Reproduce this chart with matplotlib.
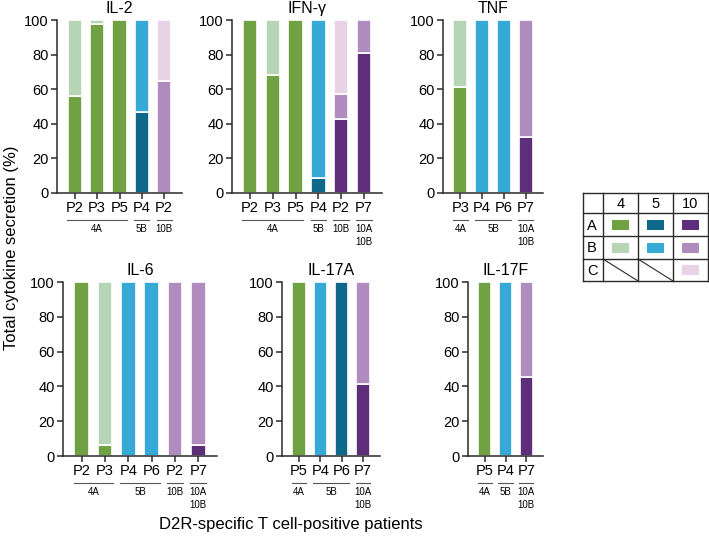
import matplotlib.pyplot as plt
from matplotlib.patches import Rectangle

plt.rcParams['font.family'] = ['Liberation Sans', 'DejaVu Sans']

W, H = 709, 542
fig = plt.figure(figsize=(W / 100, H / 100), dpi=100)

# segment colours: allele + row of the key table
colors = {
    '4A': '#70a244', '4B': '#b6d5b7',
    '5A': '#0e6889', '5B': '#36a9d6',
    '10A': '#5f2e7b', '10B': '#b08bbe', '10C': '#e8d3e6',
}

# ---- data (percent of total secretion) ----
il2_patients = ['P2', 'P3', 'P5', 'P4', 'P2']
il2_allele = ['4', '4', '4', '5', '10']
il2_A = [56, 97.5, 100, 47, 0]
il2_B = [44, 2.5, 0, 53, 64.5]
il2_C = [0, 0, 0, 0, 35.5]
il2_groups = [('4A', 0, 2), ('5B', 3, 3), ('10B', 4, 4)]

ifn_patients = ['P2', 'P3', 'P5', 'P4', 'P2', 'P7']
ifn_allele = ['4', '4', '4', '5', '10', '10']
ifn_A = [100, 68, 100, 8.5, 43, 81]
ifn_B = [0, 32, 0, 91.5, 14, 19]
ifn_C = [0, 0, 0, 0, 43, 0]
ifn_groups = [('4A', 0, 2), ('5B', 3, 3), ('10B', 4, 4), ('10A\n10B', 5, 5)]

tnf_patients = ['P3', 'P4', 'P6', 'P7']
tnf_allele = ['4', '5', '5', '10']
tnf_A = [61.5, 0, 0, 32.5]
tnf_B = [38.5, 100, 100, 67.5]
tnf_C = [0, 0, 0, 0]
tnf_groups = [('4A', 0, 0), ('5B', 1, 2), ('10A\n10B', 3, 3)]

il6_patients = ['P2', 'P3', 'P4', 'P6', 'P2', 'P7']
il6_allele = ['4', '4', '5', '5', '10', '10']
il6_A = [100, 6.5, 0, 0, 0, 6.5]
il6_B = [0, 93.5, 100, 100, 100, 93.5]
il6_C = [0, 0, 0, 0, 0, 0]
il6_groups = [('4A', 0, 1), ('5B', 2, 3), ('10B', 4, 4), ('10A\n10B', 5, 5)]

il17a_patients = ['P5', 'P4', 'P6', 'P7']
il17a_allele = ['4', '5', '5', '10']
il17a_A = [100, 0, 100, 41.5]
il17a_B = [0, 100, 0, 58.5]
il17a_C = [0, 0, 0, 0]
il17a_groups = [('4A', 0, 0), ('5B', 1, 2), ('10A\n10B', 3, 3)]

il17f_patients = ['P5', 'P4', 'P7']
il17f_allele = ['4', '5', '10']
il17f_A = [100, 0, 45.5]
il17f_B = [0, 100, 54.5]
il17f_C = [0, 0, 0]
il17f_groups = [('4A', 0, 0), ('5B', 1, 1), ('10A\n10B', 2, 2)]

panels = [
    ('IL-2', il2_patients, il2_allele, il2_A, il2_B, il2_C, il2_groups),
    ('IFN-γ', ifn_patients, ifn_allele, ifn_A, ifn_B, ifn_C, ifn_groups),
    ('TNF', tnf_patients, tnf_allele, tnf_A, tnf_B, tnf_C, tnf_groups),
    ('IL-6', il6_patients, il6_allele, il6_A, il6_B, il6_C, il6_groups),
    ('IL-17A', il17a_patients, il17a_allele, il17a_A, il17a_B, il17a_C, il17a_groups),
    ('IL-17F', il17f_patients, il17f_allele, il17f_A, il17f_B, il17f_C, il17f_groups),
]

# axes placement in pixels: left, right, y of value 0, y of value 100
boxes = [(57, 182, 193, 20), (232, 382, 193, 20), (443, 543, 193, 20),
         (63, 217, 456, 282), (282, 380, 456, 282), (468, 543, 456, 282)]

ink = '#2a2a2a'

for (title, pats, allele, A, B, C, groups), (l, r, y0, y1) in zip(panels, boxes):
    ax = fig.add_axes([l / W, 1 - y0 / H, (r - l) / W, (y0 - y1) / H])
    n = len(pats)
    x = list(range(n))
    bot = [0] * n
    for row, vals in zip('ABC', [A, B, C]):
        cols = [colors.get(a + row, 'white') for a in allele]
        lws = [1.2 if v > 0 else 0 for v in vals]
        ax.bar(x, vals, bottom=bot, width=0.64, color=cols,
               edgecolor='white', linewidth=lws)
        bot = [b + v for b, v in zip(bot, vals)]
    ax.set_xlim(-0.8, n - 0.2)
    ax.set_ylim(0, 100)
    ax.set_yticks(range(0, 101, 20))
    ax.set_xticks(x)
    ax.set_xticklabels(pats)
    for s in ['top', 'right']:
        ax.spines[s].set_visible(False)
    for s in ['left', 'bottom']:
        ax.spines[s].set_color(ink)
        ax.spines[s].set_linewidth(1.1)
    ax.tick_params(length=4, width=1.1, color=ink, labelsize=10.5, pad=2)
    ax.set_title(title, fontsize=11.5, pad=5)

    hpx = y0 - y1
    tr = ax.get_xaxis_transform()
    for lab, i0, i1 in groups:
        ax.plot([i0 - 0.34, i1 + 0.34], [-27 / hpx] * 2, color='#555555',
                lw=0.8, transform=tr, clip_on=False)
        ax.text((i0 + i1) / 2, -31 / hpx, lab, transform=tr, ha='center',
                va='top', fontsize=7, linespacing=1.35)

fig.text(12 / W, 1 - 248 / H, 'Total cytokine secretion (%)', rotation=90,
         ha='center', va='center', fontsize=12)
fig.text(291 / W, 1 - 525 / H, 'D2R-specific T cell-positive patients',
         ha='center', va='center', fontsize=12)

# key table
tab_cols = ['4', '5', '10']
tab_rows = ['A', 'B', 'C']
xs = [583, 603, 638, 673, 708]
ys = [193, 213, 236, 259, 281]
axt = fig.add_axes([xs[0] / W, 1 - ys[-1] / H, (xs[-1] - xs[0]) / W, (ys[-1] - ys[0]) / H])
axt.set_xlim(xs[0], xs[-1])
axt.set_ylim(ys[-1], ys[0])
axt.axis('off')
for xv in xs:
    axt.plot([xv, xv], [ys[0], ys[-1]], color=ink, lw=1, clip_on=False)
for yv in ys:
    axt.plot([xs[0], xs[-1]], [yv, yv], color=ink, lw=1, clip_on=False)
for j, c in enumerate(tab_cols):
    axt.text((xs[j + 1] + xs[j + 2]) / 2, (ys[0] + ys[1]) / 2 + 1, c,
             ha='center', va='center', fontsize=10.5)
for i, rlab in enumerate(tab_rows):
    yc = (ys[i + 1] + ys[i + 2]) / 2
    axt.text(592, yc + 1, rlab, ha='center', va='center', fontsize=10.5)
    for j, c in enumerate(tab_cols):
        xc = (xs[j + 1] + xs[j + 2]) / 2
        key = c + rlab
        if key in colors:
            axt.add_patch(Rectangle((xc - 8.5, yc - 5), 17, 10, color=colors[key], lw=0))
        else:
            axt.plot([xs[j + 1], xs[j + 2]], [ys[i + 1], ys[i + 2]], color=ink, lw=0.8)

fig.savefig('out.png', dpi=100)
